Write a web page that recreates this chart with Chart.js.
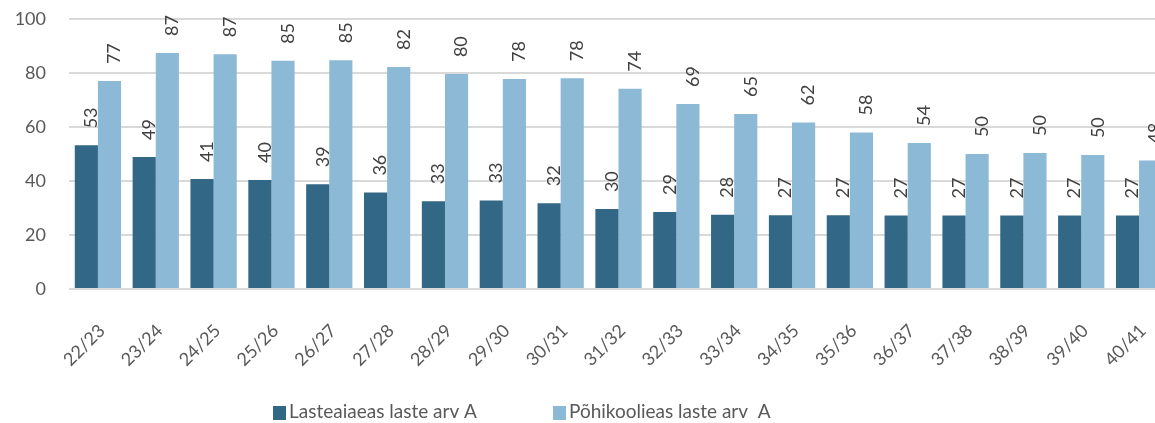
<!DOCTYPE html>
<html>
<head>
<meta charset="utf-8">
<script src="https://cdn.jsdelivr.net/npm/chart.js@4/dist/chart.umd.min.js"></script>
<style>
    html, body { margin: 0; padding: 0; background: #fff; overflow: hidden; }
    canvas { display: block; }
</style>
</head>
<body>
<canvas id="chart" width="1168" height="423"></canvas>
<script>
const years = ['22/23', '23/24', '24/25', '25/26', '26/27', '27/28', '28/29', '29/30', '30/31', '31/32',
    '32/33', '33/34', '34/35', '35/36', '36/37', '37/38', '38/39', '39/40', '40/41'];
const kindergarten = [53.2, 48.9, 40.7, 40.4, 38.8, 35.7, 32.5, 32.8, 31.8, 29.6,
    28.5, 27.5, 27.3, 27.3, 27.2, 27.2, 27.2, 27.2, 27.2];
const basicSchool = [77.0, 87.4, 86.9, 84.5, 84.7, 82.2, 79.6, 77.8, 78.1, 74.2,
    68.5, 64.8, 61.7, 58.0, 54.1, 50.0, 50.4, 49.6, 47.6];
const yTicks = [0, 20, 40, 60, 80, 100];
const seriesNames = ['Lasteaiaeas laste arv A', 'Põhikoolieas laste arv  A'];

const FONT = 'Lato, "Open Sans", sans-serif';
const TEXT = '#595959';

// rotated value labels above each bar
const barLabels = {
    id: 'barLabels',
    afterDatasetsDraw(chart) {
        const ctx = chart.ctx;
        ctx.save();
        ctx.font = '18px ' + FONT;
        ctx.fillStyle = '#404040';
        ctx.textAlign = 'left';
        ctx.textBaseline = 'middle';
        chart.data.datasets.forEach((ds, i) => {
            chart.getDatasetMeta(i).data.forEach((bar, j) => {
                ctx.save();
                ctx.translate(bar.x + 5, bar.y - 17);
                ctx.rotate(-Math.PI / 2);
                ctx.fillText(String(Math.round(ds.data[j])), 0, 0);
                ctx.restore();
            });
        });
        ctx.restore();
    }
};

// legend drawn below the axis labels
const bottomLegend = {
    id: 'bottomLegend',
    afterDraw(chart) {
        const ctx = chart.ctx;
        const starts = [273, 553];
        ctx.save();
        ctx.font = '19px ' + FONT;
        ctx.textBaseline = 'middle';
        ctx.textAlign = 'left';
        chart.data.datasets.forEach((ds, i) => {
            const x = starts[i];
            ctx.fillStyle = ds.backgroundColor;
            ctx.fillRect(x, 406, 13, 14);
            ctx.fillStyle = TEXT;
            ctx.fillText(ds.label, x + 16, 412);
        });
        ctx.restore();
    }
};

const ctx = document.getElementById('chart').getContext('2d');
new Chart(ctx, {
    type: 'bar',
    data: {
        labels: years,
        datasets: [
            { label: seriesNames[0], data: kindergarten, backgroundColor: '#326886' },
            { label: seriesNames[1], data: basicSchool, backgroundColor: '#8cb9d5' }
        ]
    },
    options: {
        responsive: false,
        animation: false,
        datasets: {
            bar: { categoryPercentage: 0.8, barPercentage: 1.0, borderWidth: 0 }
        },
        layout: { padding: { top: 19, right: 0, bottom: 0, left: 0 } },
        plugins: {
            legend: { display: false },
            tooltip: { enabled: false }
        },
        scales: {
            x: {
                grid: { display: false },
                border: { display: false },
                ticks: {
                    color: TEXT,
                    font: { family: FONT, size: 18 },
                    minRotation: 45,
                    maxRotation: 45,
                    autoSkip: false,
                    padding: 23,
                    labelOffset: 4
                },
                afterFit: scale => {
                    scale.height = 134;
                    scale.paddingLeft = 0;
                    scale.paddingRight = 0;
                }
            },
            y: {
                min: 0,
                max: 100,
                afterBuildTicks: scale => { scale.ticks = yTicks.map(v => ({ value: v })); },
                grid: { color: '#d9d9d9', lineWidth: 2, drawTicks: false },
                border: { display: false },
                ticks: {
                    color: TEXT,
                    font: { family: FONT, size: 18 },
                    padding: 23
                },
                afterFit: scale => {
                    scale.width = 69;
                    scale.paddingTop = 0;
                    scale.paddingBottom = 0;
                }
            }
        }
    },
    plugins: [barLabels, bottomLegend]
});
</script>
</body>
</html>
